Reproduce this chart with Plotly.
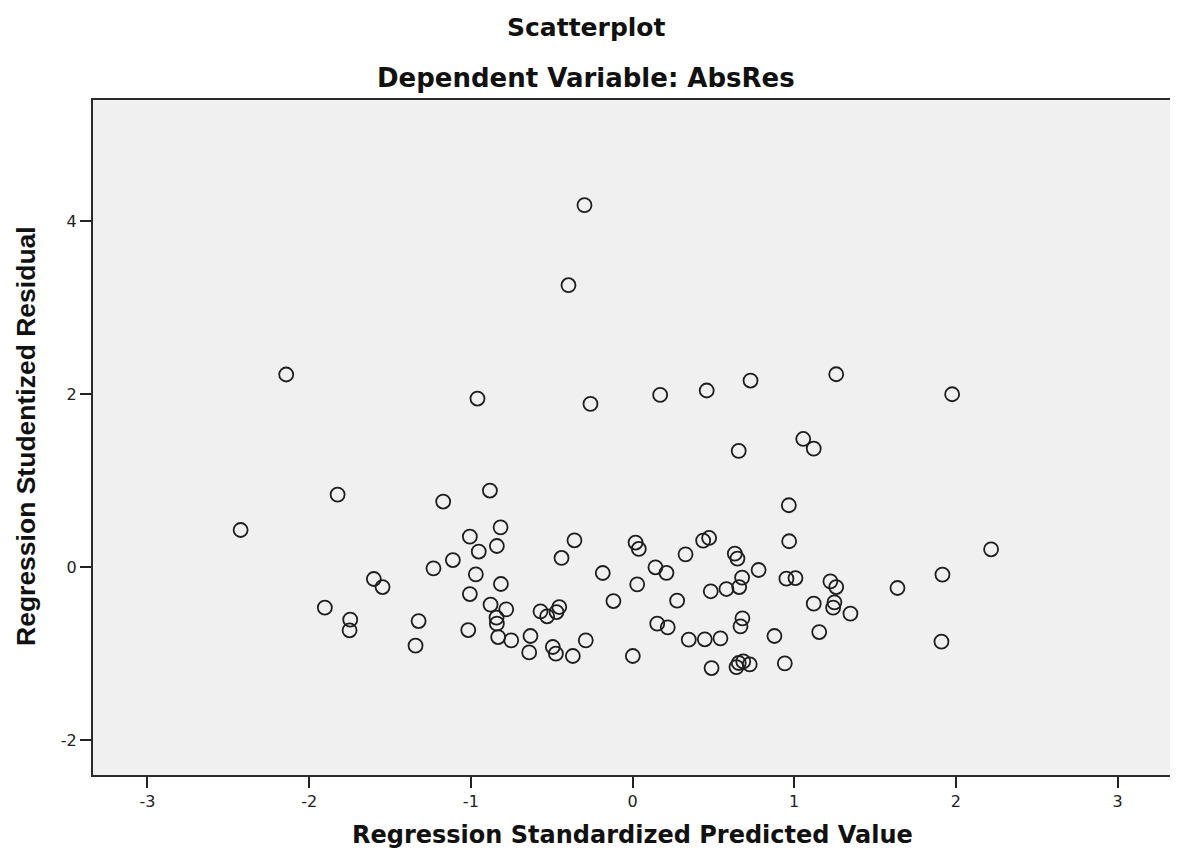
import plotly.graph_objects as go

# Regression Standardized Predicted Value
pred = [-0.297, -0.396, -2.142, -0.959, -0.260, 0.171, 0.459, 0.730, 1.260, 1.977,
        1.056, 1.121, 0.657, -1.824, -1.171, -0.882, 0.967, -2.424, -0.816, -1.006,
        -0.359, -0.839, -0.951, -1.111, -0.439, 0.019, 0.039, 0.437, 0.474, 0.328,
        0.633, 0.649, 0.969, 2.218, -1.231, -0.969, -1.600, -1.546, -0.814, -0.184,
        0.142, 0.210, 0.029, -0.118, 0.276, 0.780, 0.952, 1.008, 0.678, 0.660,
        0.581, 0.484, 1.224, 1.260, 1.249, 1.241, 1.348, 1.639, 1.917, -1.903,
        -1.746, -1.750, -1.323, -1.342, -1.006, -1.016, -0.878, -0.841, -0.839, -0.831,
        -0.781, -0.750, -0.639, -0.631, -0.569, -0.528, -0.470, -0.453, -0.493, -0.474,
        -0.369, -0.289, 0.002, 0.153, 0.218, 0.348, 0.447, 0.544, 0.489, 0.643,
        0.657, 0.685, 0.725, 0.680, 0.668, 0.878, 0.942, 1.155, 1.121, 1.911]

# Regression Studentized Residual
resid = [4.185, 3.260, 2.228, 1.950, 1.888, 1.992, 2.043, 2.158, 2.231, 2.000,
         1.483, 1.372, 1.345, 0.840, 0.760, 0.887, 0.717, 0.431, 0.462, 0.355,
         0.312, 0.246, 0.182, 0.084, 0.108, 0.286, 0.212, 0.309, 0.339, 0.150,
         0.158, 0.101, 0.301, 0.208, -0.012, -0.081, -0.135, -0.228, -0.193, -0.066,
         0.000, -0.064, -0.197, -0.390, -0.385, -0.031, -0.131, -0.124, -0.119, -0.228,
         -0.251, -0.277, -0.162, -0.228, -0.405, -0.466, -0.535, -0.239, -0.084, -0.466,
         -0.605, -0.728, -0.621, -0.905, -0.309, -0.725, -0.431, -0.582, -0.651, -0.806,
         -0.486, -0.844, -0.983, -0.794, -0.509, -0.566, -0.517, -0.459, -0.921, -0.998,
         -1.025, -0.844, -1.025, -0.651, -0.694, -0.836, -0.832, -0.821, -1.164, -1.153,
         -1.106, -1.087, -1.121, -0.590, -0.682, -0.794, -1.110, -0.748, -0.420, -0.859]

x_ticks = [-3, -2, -1, 0, 1, 2, 3]
y_ticks = [-2, 0, 2, 4]

title_text = "Scatterplot"
subtitle_text = "Dependent Variable: AbsRes"
x_title = "Regression Standardized Predicted Value"
y_title = "Regression Studentized Residual"

W, H = 1178, 859
OFF = 8  # page body offset
# target plot area in page pixels: x 93..1172, y 100..775
ml, mt = 93 - OFF, 100 - OFF
mr = W + OFF - 1172
mb = H + OFF - 775
pw = W - ml - mr
ph = H - mt - mb

def px_to_paper_x(px):
    return (px - OFF - ml) / pw

def px_to_paper_y(py):
    return (H - mb - (py - OFF)) / ph

fig = go.Figure()
fig.add_trace(go.Scatter(
    x=pred, y=resid, mode="markers",
    marker=dict(symbol="circle-open", size=14, color="#1e1e1e",
                line=dict(width=1.8, color="#1e1e1e")),
    hoverinfo="x+y", showlegend=False,
))

axis_common = dict(
    showgrid=False, zeroline=False,
    showline=True, linecolor="#2a2a2a", linewidth=2, mirror=True,
    ticks="outside", ticklen=11, tickwidth=2, tickcolor="#222222",
    tickfont=dict(family="DejaVu Sans", size=16, color="#222222"),
)

fig.update_xaxes(range=[-3.337, 3.337], tickmode="array", tickvals=x_ticks,
                 ticktext=[str(v) for v in x_ticks], **axis_common)
fig.update_yaxes(range=[-2.40, 5.40], tickmode="array", tickvals=y_ticks,
                 ticktext=[str(v) for v in y_ticks], **axis_common)

annos = [
    dict(text="<b>%s</b>" % title_text, x=px_to_paper_x(586), y=px_to_paper_y(28),
         font=dict(family="DejaVu Sans", size=25, color="#111111")),
    dict(text="<b>%s</b>" % subtitle_text, x=px_to_paper_x(586), y=px_to_paper_y(78),
         font=dict(family="DejaVu Sans", size=26, color="#111111")),
    dict(text="<b>%s</b>" % x_title, x=px_to_paper_x(632), y=px_to_paper_y(835),
         font=dict(family="DejaVu Sans", size=24, color="#111111")),
    dict(text="<b>%s</b>" % y_title, x=px_to_paper_x(26), y=px_to_paper_y(436), textangle=-90,
         font=dict(family="Liberation Sans", size=26.5, color="#111111")),
]
for a in annos:
    fig.add_annotation(xref="paper", yref="paper", showarrow=False,
                       xanchor="center", yanchor="middle", **a)

fig.update_layout(
    width=W, height=H,
    margin=dict(l=ml, r=mr, t=mt, b=mb),
    paper_bgcolor="white", plot_bgcolor="#F0F0F0",
)

fig.write_html("out.html")
